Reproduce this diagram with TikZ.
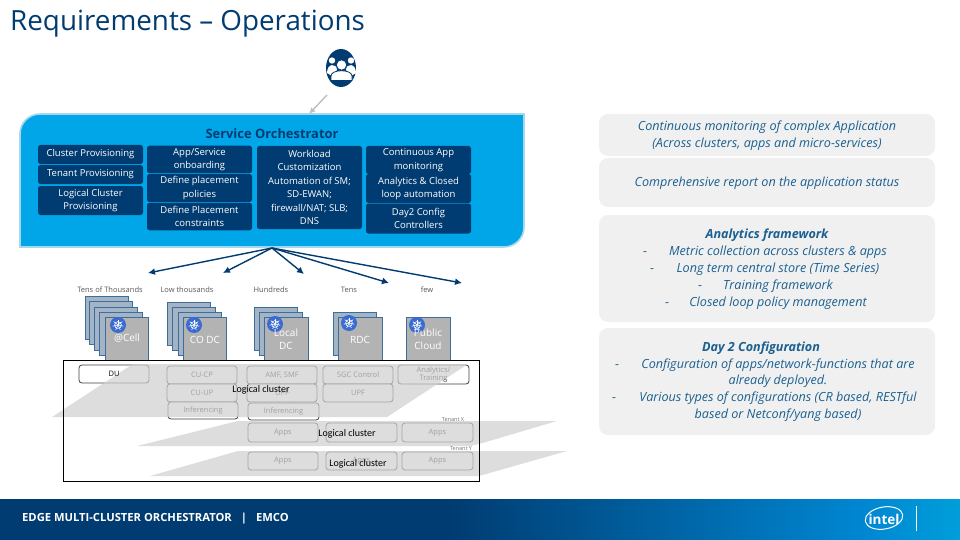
\documentclass[tikz,border=0pt]{standalone}
\usepackage{fontspec}
\setmainfont{Open Sans}
\newfontfamily\labelfont{Carlito}
\usetikzlibrary{arrows.meta,shapes.geometric,calc}
\definecolor{navy}{HTML}{003C71}
\definecolor{sky}{HTML}{00A6E8}
\definecolor{panel}{HTML}{F0F0F0}
\definecolor{slate}{HTML}{A3B4C6}
\definecolor{slateedge}{HTML}{3F6D99}
\definecolor{cardgray}{HTML}{B3B3B3}
\definecolor{footL}{HTML}{003C71}
\definecolor{footR}{HTML}{0086D1}
\definecolor{kubeblue}{HTML}{3A6BD0}
\definecolor{ptextc}{HTML}{1B6090}
\tikzset{
 x=1pt,y=-1pt,
 navybox/.style={fill=navy,rounded corners=2.5pt,text=white,align=center,inner sep=0pt,font=\fontsize{9.5}{13.5}\selectfont},
 ptext/.style={text=ptextc,font=\fontsize{12.6}{14}\selectfont\itshape,inner sep=0pt,text height=9.5pt,text depth=2.5pt},
 phead/.style={ptext,font=\fontsize{12.6}{14}\selectfont\itshape\bfseries},
 panelbox/.style={fill=panel,rounded corners=9pt},
 card/.style={draw=slateedge,line width=.7pt,fill=slate},
 front/.style={draw=slateedge,line width=.7pt,fill=cardgray},
 cardtext/.style={text=white,align=center,font=\fontsize{10}{13}\selectfont,inner sep=0pt},
 toplabel/.style={text=black!65,font=\fontsize{7.5}{9}\selectfont,inner sep=0pt},
 fn/.style={draw=black!75,line width=.8pt,fill=white,rounded corners=3pt,align=center,inner sep=0pt,font=\fontsize{7.5}{8.5}\selectfont,text=black!80},
 wedge/.style={fill=black!19,fill opacity=.7},
 lc/.style={text=black,font=\labelfont\fontsize{10}{10}\selectfont,inner sep=0pt},
 spread/.style={-{Latex[length=7pt,width=7pt]},draw=navy,line width=1.4pt},
}
\newcommand{\kube}[3]{%
 \node[circle,fill=kubeblue,minimum size=16pt,inner sep=0pt] (#1) at (#2,#3) {};
 \draw[white,line width=.6pt] (#2,#3) circle[radius=3.4pt];
 \foreach \a in {90,141.43,192.86,244.29,295.71,347.14,398.57} \draw[white,line width=.55pt] (#2,#3) -- +(\a:5.4pt);
}
\begin{document}
\begin{tikzpicture}
\useasboundingbox (0,0) rectangle (960,540);
\fill[white] (0,0) rectangle (960,540);

% title
\node[anchor=west,text=navy,inner sep=0pt,font=\fontsize{27.8}{30}\selectfont] (title) at (10,24) {Requirements – Operations};

% user icon
\node[ellipse,fill=navy,minimum width=30pt,minimum height=38pt,inner sep=0pt] (user) at (341,68) {};
\fill[white] (332,60.5) circle[radius=3.2pt] (351,60.5) circle[radius=3.2pt];
\fill[white] (327,73) .. controls (327,63) and (337,63) .. (337,70) -- (332,76) -- cycle;
\fill[white] (356,73) .. controls (356,63) and (346,63) .. (346,70) -- (351,76) -- cycle;
\filldraw[white,draw=navy,line width=.8pt] (341.5,65) circle[radius=5.2pt];
\filldraw[white,draw=navy,line width=.8pt] (331,80.5) -- (331,76) .. controls (331,69) and (352,69) .. (352,76) -- (352,80.5) -- cycle;

% orchestrator block
\node[inner sep=0pt,minimum size=0pt] (orchtop) at (309,114) {};
\draw[fill=sky,draw=black!15!sky!35!white,line width=1.6pt]
  (20,247) -- (20,134) arc[start angle=180,end angle=90,radius=20pt] -- (524,114) -- (524,227) arc[start angle=0,end angle=-90,radius=20pt] -- cycle;
\draw[-{Latex[length=6pt,width=6pt]},draw=black!25,line width=1.4pt] ($(user)+(-14,27)$) -- (orchtop);
\node[text=navy,inner sep=0pt,font=\fontsize{12.9}{14}\selectfont\bfseries] (orch) at (272,134) {Service Orchestrator};

% left column
\node[navybox,minimum width=105pt,minimum height=19pt] (a1) at (90.5,154.5) {Cluster Provisioning};
\node[navybox,minimum width=105pt,minimum height=19pt] (a2) at (90.5,174.5) {Tenant Provisioning};
\node[navybox,minimum width=105pt,minimum height=29pt] (a3) at (90.5,200.5) {Logical Cluster\\Provisioning};
% col 2
\node[navybox,minimum width=105pt,minimum height=27.5pt] (b1) at (199.5,159.5) {App/Service\\onboarding};
\node[navybox,minimum width=105pt,minimum height=28pt] (b2) at (199.5,188) {Define placement\\policies};
\node[navybox,minimum width=105pt,minimum height=27.5pt] (b3) at (199.5,216.5) {Define Placement\\constraints};
% col 3
\node[navybox,minimum width=105pt,minimum height=83pt] (c1) at (309.5,187.5) {Workload\\Customization\\Automation of SM;\\SD-EWAN;\\firewall/NAT; SLB;\\DNS};
% col 4
\node[navybox,minimum width=105pt,minimum height=28pt] (d1) at (418.5,160) {Continuous App\\monitoring};
\node[navybox,minimum width=105pt,minimum height=29pt] (d2) at (418.5,188.5) {Analytics \& Closed\\loop automation};
\node[navybox,minimum width=105pt,minimum height=30pt] (d3) at (418.5,218.5) {Day2 Config\\Controllers};

% spread arrows
\coordinate (apex) at (272,248);
\coordinate (t1) at (148,273);
\coordinate (t2) at (223,273);
\coordinate (t3) at (304,274);
\coordinate (t4) at (389,283);
\coordinate (t5) at (462,283);
\foreach \t in {t1,t2,t3,t4,t5} \draw[spread] (apex) -- (\t);

% column labels
\node[toplabel] (l1) at (110,290) {Tens of Thousands};
\node[toplabel] (l2) at (187,290) {Low thousands};
\node[toplabel] (l3) at (271,290) {Hundreds};
\node[toplabel] (l4) at (349,290) {Tens};
\node[toplabel] (l5) at (427,290) {few};

% stacks
\foreach \px/\py in {85/296,89/301,94/307,99/312,167/302,172/307,178/312,254/307,259/312,333/312}
  \draw[card] (\px,\py) rectangle ++(43,43);
\node[front,minimum width=43pt,minimum height=43pt,inner sep=0pt,cardtext] (s1) at (126.5,338.5) {};
\node[front,minimum width=43pt,minimum height=43pt,inner sep=0pt,cardtext] (s2) at (204.5,338.5) {};
\node[front,minimum width=44pt,minimum height=43pt,inner sep=0pt,cardtext] (s3) at (286,338.5) {};
\node[front,minimum width=44pt,minimum height=43pt,inner sep=0pt,cardtext] (s4) at (360,338.5) {};
\node[front,minimum width=44pt,minimum height=43pt,inner sep=0pt,cardtext] (s5) at (428,338.5) {};
\kube{k1}{118}{325}
\kube{k2}{194}{325}
\kube{k3}{275}{324}
\kube{k4}{349}{323}
\kube{k5}{417}{325}
\node[cardtext] (s1t) at (127,338.5) {@Cell};
\node[cardtext] (s2t) at (205,339.5) {CO DC};
\node[cardtext] (s3t) at (286,339) {Local\\DC};
\node[cardtext] (s4t) at (360,339.5) {RDC};
\node[cardtext] (s5t) at (428,339) {Public\\Cloud};

% frame
\fill[white] (63.5,360) rectangle (479,481);

% function boxes
\node[fn,minimum width=70pt,minimum height=18pt] (f1) at (114,374) {};
\node[fn,minimum width=70pt,minimum height=18pt] (f2) at (202,375) {CU-CP};
\node[fn,minimum width=70pt,minimum height=18pt] (f3) at (202,393) {CU-UP};
\node[fn,minimum width=70pt,minimum height=17pt] (f4) at (203,410.5) {Inferencing};
\node[fn,minimum width=70pt,minimum height=18pt] (f5) at (282,375) {AMF, SMF};
\node[fn,minimum width=70pt,minimum height=18pt] (f6) at (282,393) {UPF};
\node[fn,minimum width=71pt,minimum height=17pt] (f7) at (283.5,411.5) {Inferencing};
\node[fn,minimum width=70pt,minimum height=18pt] (f8) at (358,375) {5GC Control};
\node[fn,minimum width=70pt,minimum height=18pt] (f9) at (358,393) {UPF};
\node[fn,minimum width=71pt,minimum height=19pt] (f10) at (433.5,374.5) {Analytics/\\Training};
\node[fn,minimum width=70pt,minimum height=19pt] (g1) at (283,432.5) {Apps};
\node[fn,minimum width=71pt,minimum height=19pt] (g2) at (361.5,432.5) {};
\node[fn,minimum width=71pt,minimum height=19pt] (g3) at (437.5,432.5) {Apps};
\node[fn,minimum width=70pt,minimum height=18pt] (h1) at (283,461) {Apps};
\node[fn,minimum width=71pt,minimum height=18pt] (h2) at (361.5,461) {Apps};
\node[fn,minimum width=71pt,minimum height=18pt] (h3) at (437.5,461) {Apps};

% translucent wedges
\fill[wedge] (52,417) -- (133,364) -- (468,364) -- (387,417) -- cycle;
\fill[wedge] (137,446) -- (238,421) -- (557,421) -- (479,444) -- (470,446) -- cycle;
\fill[wedge] (150,476) -- (238,451) -- (567,451) -- (479,476) -- cycle;
\draw[black,line width=1pt] (63.5,360) rectangle (479,481);

\node[inner sep=0pt,font=\fontsize{7.5}{8.5}\selectfont,text=black] (f1t) at (114,373.5) {DU};
\node[text=black!55,inner sep=0pt,font=\fontsize{5.5}{6}\selectfont] (tx) at (453,420) {Tenant X};
\node[text=black!55,inner sep=0pt,font=\fontsize{5.5}{6}\selectfont] (ty) at (461,449) {Tenant Y};

\node[lc] (c1a) at (261,390) {Logical cluster};
\node[lc] (c2a) at (347,433.5) {Logical cluster};
\node[lc] (c3a) at (358,463.5) {Logical cluster};

% right panels
\node[panelbox,minimum width=336pt,minimum height=42pt] (p1) at (767,135) {};
\node[panelbox,minimum width=336pt,minimum height=49pt] (p2) at (767,182.5) {};
\node[panelbox,minimum width=336pt,minimum height=107pt] (p3) at (767,268.5) {};
\node[panelbox,minimum width=336pt,minimum height=107pt] (p4) at (767,381.5) {};

\node[ptext] (q1) at (767,127) {Continuous monitoring of complex Application};
\node[ptext] (q2) at (767,144) {(Across clusters, apps and micro-services)};
\node[ptext] (q3) at (767,183) {Comprehensive report on the application status};

\node[phead] (q4) at (767,235) {Analytics framework};
\node[ptext] (q5) at (645,252) {-};
\node[ptext] (q6) at (778,252) {Metric collection across clusters \& apps};
\node[ptext] (q7) at (652,269) {-};
\node[ptext] (q8) at (778,269) {Long term central store (Time Series)};
\node[ptext] (q9) at (700,286) {-};
\node[ptext] (q10) at (778,286) {Training framework};
\node[ptext] (q11) at (667,303) {-};
\node[ptext] (q12) at (778,303) {Closed loop policy management};

\node[phead] (q13) at (761,348) {Day 2 Configuration};
\node[ptext] (q14) at (617,365) {-};
\node[ptext] (q15) at (778,365) {Configuration of apps/network-functions that are};
\node[ptext] (q16) at (778,381) {already deployed.};
\node[ptext] (q17) at (614,398) {-};
\node[ptext] (q18) at (778,398) {Various types of configurations (CR based, RESTful};
\node[ptext] (q19) at (778,415) {based or Netconf/yang based)};

% footer
\fill[footL] (0,499) rectangle (450,540);
\shade[left color=footL,right color=footR] (450,499) rectangle (860,540);
\shade[left color=footR,right color=footR!80!cyan] (860,499) rectangle (960,540);
\node[anchor=west,text=white,inner sep=0pt,font=\fontsize{11.2}{12}\selectfont\bfseries] (foot) at (22,519) {EDGE MULTI-CLUSTER ORCHESTRATOR\hspace{9pt}|\hspace{9pt}EMCO};
\node[text=white,inner sep=0pt,font=\fontsize{13.5}{15}\selectfont\bfseries] (intel) at (884,519) {intel};
\draw[white,line width=1pt,rotate around={10:(884,518)}] (884,518) ellipse[x radius=19pt,y radius=11pt];
\draw[white,line width=.8pt] (916,506) -- (916,531);
\end{tikzpicture}
\end{document}
